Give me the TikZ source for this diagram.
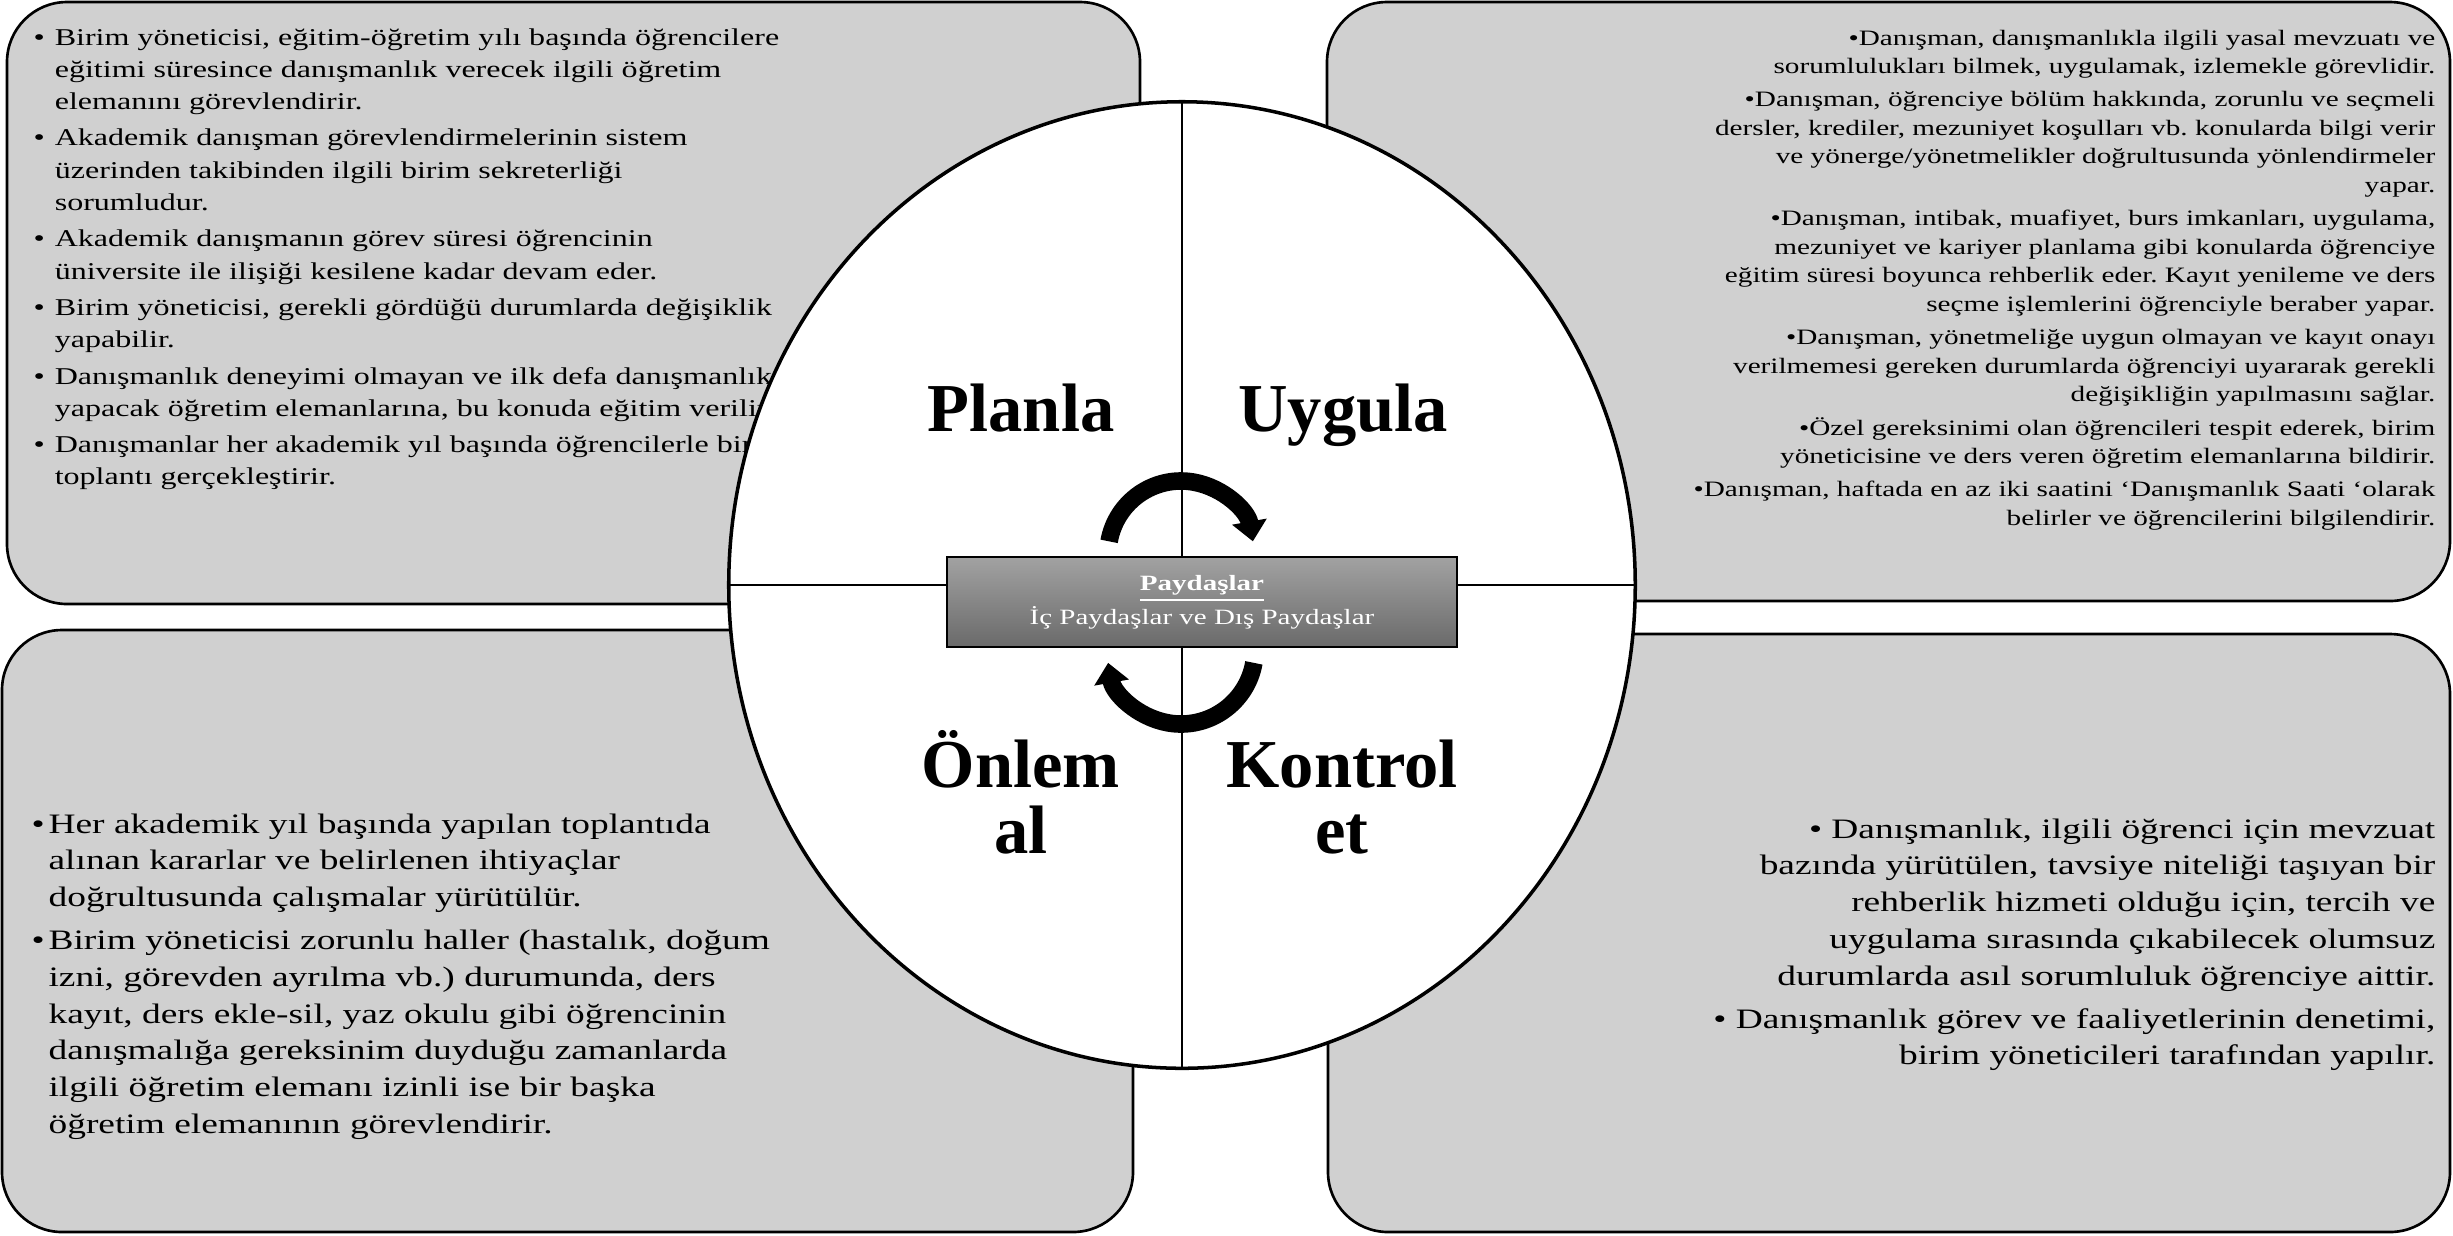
\documentclass[tikz,border=0pt]{standalone}
\usepackage{fontspec}
\setmainfont{Liberation Serif}
\newfontfamily\widefont{Liberation Serif}[FakeStretch=1.33]
\usepackage{xcolor}
\usepackage{tikz}
\usetikzlibrary{shapes.geometric,arrows.meta}
\frenchspacing

\definecolor{panelgray}{RGB}{208,208,208}
\definecolor{hubtop}{RGB}{162,162,162}
\definecolor{hubbot}{RGB}{106,106,106}
\newcommand{\bul}{\makebox[6pt][l]{•}}
\newcommand{\ind}{\hspace*{6pt}}
\newcommand{\bbul}{\makebox[4.8pt][l]{•}}
\newcommand{\bind}{\hspace*{4.8pt}}

\begin{document}
\begin{tikzpicture}[x=0.01cm,y=0.01cm,
    panel/.style={draw, fill=panelgray, line width=0.75pt, rounded corners=0.6cm},
    leftlist/.style={anchor=base west, align=left, text width=9cm, inner sep=0},
    rightlist/.style={anchor=base east, align=right, text width=9cm, inner sep=0},
    phase/.style={anchor=base, align=center, text width=3.5cm, inner sep=0, font=\fontsize{19.5}{19}\selectfont\bfseries},
    cyclearrow/.style={line width=5pt, -{Triangle[width=0.34cm,length=0.2cm]}}]
    \useasboundingbox[fill=white] (0,0) rectangle (2453,-1235);

    % four panels
    \draw[panel] (7,-2) rectangle (1140,-604);
    \draw[panel] (1327,-2) rectangle (2450,-601);
    \draw[panel] (2,-630) rectangle (1133,-1232);
    \draw[panel] (1328,-634) rectangle (2450,-1232);

    \node[leftlist, font={\widefont\fontsize{6.85}{9.2}\selectfont}] (plantext) at (33,-45)
      {\bul Birim yöneticisi, eğitim-öğretim yılı başında öğrencilere\\
       \ind eğitimi süresince danışmanlık verecek ilgili öğretim\\
       \ind elemanını görevlendirir.\\[1.1pt]
       \bul Akademik danışman görevlendirmelerinin sistem\\
       \ind üzerinden takibinden ilgili birim sekreterliği\\
       \ind sorumludur.\\[1.1pt]
       \bul Akademik danışmanın görev süresi öğrencinin\\
       \ind üniversite ile ilişiği kesilene kadar devam eder.\\[1.1pt]
       \bul Birim yöneticisi, gerekli gördüğü durumlarda değişiklik\\
       \ind yapabilir.\\[1.1pt]
       \bul Danışmanlık deneyimi olmayan ve ilk defa danışmanlık\\
       \ind yapacak öğretim elemanlarına, bu konuda eğitim verilir.\\[1.1pt]
       \bul Danışmanlar her akademik yıl başında öğrencilerle bir\\
       \ind toplantı gerçekleştirir.};

    \node[rightlist, font={\widefont\fontsize{6.25}{8.1}\selectfont}] (uygtext) at (2436,-45)
      {•Danışman, danışmanlıkla ilgili yasal mevzuatı ve\\
       sorumlulukları bilmek, uygulamak, izlemekle görevlidir.\\[1.4pt]
       •Danışman, öğrenciye bölüm hakkında, zorunlu ve seçmeli\\
       dersler, krediler, mezuniyet koşulları vb. konularda bilgi verir\\
       ve yönerge/yönetmelikler doğrultusunda yönlendirmeler\\
       yapar.\\[1.4pt]
       •Danışman, intibak, muafiyet, burs imkanları, uygulama,\\
       mezuniyet ve kariyer planlama gibi konularda öğrenciye\\
       eğitim süresi boyunca rehberlik eder. Kayıt yenileme ve ders\\
       seçme işlemlerini öğrenciyle beraber yapar.\\[1.4pt]
       •Danışman, yönetmeliğe uygun olmayan ve kayıt onayı\\
       verilmemesi gereken durumlarda öğrenciyi uyararak gerekli\\
       değişikliğin yapılmasını sağlar.\\[1.4pt]
       •Özel gereksinimi olan öğrencileri tespit ederek, birim\\
       yöneticisine ve ders veren öğretim elemanlarına bildirir.\\[1.4pt]
       •Danışman, haftada en az iki saatini ‘Danışmanlık Saati ‘olarak\\
       belirler ve öğrencilerini bilgilendirir.};

    \node[leftlist, font={\widefont\fontsize{8}{10.47}\selectfont}] (onlemtext) at (31,-833)
      {\bbul Her akademik yıl başında yapılan toplantıda\\
       \bind alınan kararlar ve belirlenen ihtiyaçlar\\
       \bind doğrultusunda çalışmalar yürütülür.\\[1.7pt]
       \bbul Birim yöneticisi zorunlu haller (hastalık, doğum\\
       \bind izni, görevden ayrılma vb.) durumunda, ders\\
       \bind kayıt, ders ekle-sil, yaz okulu gibi öğrencinin\\
       \bind danışmalığa gereksinim duyduğu zamanlarda\\
       \bind ilgili öğretim elemanı izinli ise bir başka\\
       \bind öğretim elemanının görevlendirir.};

    \node[rightlist, font={\widefont\fontsize{8}{10.47}\selectfont}] (kontroltext) at (2436,-838)
      {• Danışmanlık, ilgili öğrenci için mevzuat\\
       bazında yürütülen, tavsiye niteliği taşıyan bir\\
       rehberlik hizmeti olduğu için, tercih ve\\
       uygulama sırasında çıkabilecek olumsuz\\
       durumlarda asıl sorumluluk öğrenciye aittir.\\[1.7pt]
       • Danışmanlık görev ve faaliyetlerinin denetimi,\\
       birim yöneticileri tarafından yapılır.};

    % the wheel
    \node[draw, ellipse, fill=white, line width=1pt, inner sep=0, outer sep=0,
          minimum width=9.06cm, minimum height=9.66cm] (wheel) at (1182,-585) {};
    \draw[line width=0.7pt] (wheel.north) -- (wheel.south);
    \draw[line width=0.7pt] (wheel.west) -- (wheel.east);

    \node[phase] (planla) at (1021,-431) {Planla};
    \node[phase] (uygula) at (1343,-431) {Uygula};
    \node[phase] (onlem) at (1021,-787) {Önlem\\al};
    \node[phase] (kontrol) at (1342,-787) {Kontrol\\et};

    \node[draw, line width=0.4pt, top color=hubtop, bottom color=hubbot, text=white,
          minimum width=5.1cm, minimum height=0.9cm, inner sep=0, align=center,
          font={\widefont\fontsize{6.2}{9.7}\selectfont}] (hub) at (1202,-602)
      {\textbf{\underline{Paydaşlar}}\\İç Paydaşlar ve Dış Paydaşlar};

    \coordinate (topturn) at (1181,-554);
    \coordinate (botturn) at (1181,-650);
    \draw[cyclearrow] ([shift={(170:73)}]topturn) arc[start angle=170, end angle=10, radius=73];
    \draw[cyclearrow] ([shift={(-10:74)}]botturn) arc[start angle=-10, end angle=-170, radius=74];
\end{tikzpicture}
\end{document}
